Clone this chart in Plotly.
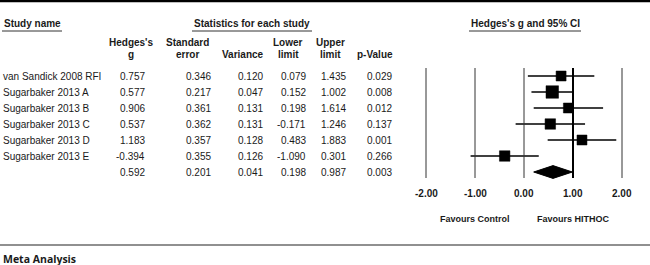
import plotly.graph_objects as go

# ---------------- data ----------------
studies = ["van Sandick 2008 RFI", "Sugarbaker 2013 A", "Sugarbaker 2013 B",
           "Sugarbaker 2013 C", "Sugarbaker 2013 D", "Sugarbaker 2013 E"]
hedges_g = [0.757, 0.577, 0.906, 0.537, 1.183, -0.394]
std_err = [0.346, 0.217, 0.361, 0.362, 0.357, 0.355]
variance = [0.120, 0.047, 0.131, 0.131, 0.128, 0.126]
lower = [0.079, 0.152, 0.198, -0.171, 0.483, -1.090]
upper = [1.435, 1.002, 1.614, 1.246, 1.883, 0.301]
p_value = [0.029, 0.008, 0.012, 0.137, 0.001, 0.266]
marker_size = [10, 12.5, 10, 10.5, 10, 10.5]

summary = {"g": 0.592, "se": 0.201, "var": 0.041, "lo": 0.198, "hi": 0.987, "p": 0.003}

tick_vals = [-2, -1, 0, 1, 2]
tick_text = ["-2.00", "-1.00", "0.00", "1.00", "2.00"]

# ---------------- layout helpers ----------------
W, H = 650, 265
ROW0, ROWH = 76, 16          # pixel y of first row, row spacing
X0, XU = 524, 49             # pixel x of value 0, pixels per unit


def px(x):
    return x / W


def py(y):
    return 1 - y / H


def row_of(y):
    return (y - ROW0) / ROWH


FONT = "Liberation Sans, Arial, sans-serif"
TXT = "#1a1a1a"

fig = go.Figure()

# vertical reference lines
for v in tick_vals:
    fig.add_shape(type="line", xref="x", yref="y", x0=v, x1=v,
                  y0=row_of(68), y1=row_of(178),
                  line=dict(color="black" if v == 1 else "#333333",
                            width=2 if v == 1 else 1))

# study CIs with square markers
fig.add_trace(go.Scatter(
    x=hedges_g, y=list(range(len(studies))), mode="markers",
    marker=dict(symbol="square", size=marker_size, color="black", opacity=1,
                line=dict(width=0.5, color="black")),
    error_x=dict(type="data", symmetric=False,
                 array=[u - g for u, g in zip(upper, hedges_g)],
                 arrayminus=[g - l for g, l in zip(hedges_g, lower)],
                 color="black", thickness=1.6, width=0),
    showlegend=False, hoverinfo="skip"))

# summary diamond
srow = len(studies)
dh = 0.4
fig.add_trace(go.Scatter(
    x=[summary["lo"], summary["g"], summary["hi"], summary["g"], summary["lo"]],
    y=[srow, srow - dh, srow, srow + dh, srow],
    mode="lines", fill="toself", fillcolor="black",
    line=dict(color="black", width=1), showlegend=False, hoverinfo="skip"))

ann = []


def add(text, x, y, xanchor="right", size=10, bold=False, yref="y", family=FONT, color=TXT):
    ann.append(dict(text=f"<b>{text}</b>" if bold else text, x=px(x), y=y,
                    xref="paper", yref=yref, xanchor=xanchor, yanchor="middle",
                    showarrow=False, font=dict(family=family, size=size, color=color)))


# table rows
for i, name in enumerate(studies):
    add(name, 1, i, xanchor="left")
    add(f"{hedges_g[i]:.3f}", 147, i)
    add(f"{std_err[i]:.3f}", 213, i)
    add(f"{variance[i]:.3f}", 265, i)
    add(f"{lower[i]:.3f}", 308, i)
    add(f"{upper[i]:.3f}", 348, i)
    add(f"{p_value[i]:.3f}", 394, i)
add(f"{summary['g']:.3f}", 147, srow)
add(f"{summary['se']:.3f}", 213, srow)
add(f"{summary['var']:.3f}", 265, srow)
add(f"{summary['lo']:.3f}", 308, srow)
add(f"{summary['hi']:.3f}", 348, srow)
add(f"{summary['p']:.3f}", 394, srow)

# headers
add("Study name", 2, py(24), xanchor="left", bold=True, yref="paper")
add("Statistics for each study", 252, py(24), xanchor="center", bold=True, yref="paper")
add("Hedges's g and 95% CI", 525, py(24), xanchor="center", bold=True, yref="paper")
add("Hedges's", 131, py(43), xanchor="center", bold=True, yref="paper")
add("g", 131, py(55), xanchor="center", bold=True, yref="paper")
add("Standard", 187, py(43), xanchor="center", bold=True, yref="paper")
add("error", 187, py(55), xanchor="center", bold=True, yref="paper")
add("Variance", 243, py(55), xanchor="center", bold=True, yref="paper")
add("Lower", 288, py(43), xanchor="center", bold=True, yref="paper")
add("limit", 288, py(55), xanchor="center", bold=True, yref="paper")
add("Upper", 330, py(43), xanchor="center", bold=True, yref="paper")
add("limit", 330, py(55), xanchor="center", bold=True, yref="paper")
add("p-Value", 375, py(55), xanchor="center", bold=True, yref="paper")

# axis tick labels
for v, t in zip(tick_vals, tick_text):
    ann.append(dict(text=f"<b>{t}</b>", x=v, y=py(193), xref="x", yref="paper",
                    xanchor="center", yanchor="middle", showarrow=False,
                    font=dict(family=FONT, size=10, color=TXT)))
ann.append(dict(text="<b>Favours Control</b>", x=-1, y=py(219), xref="x", yref="paper",
                xanchor="center", yanchor="middle", showarrow=False,
                font=dict(family=FONT, size=9, color=TXT)))
ann.append(dict(text="<b>Favours HITHOC</b>", x=1, y=py(219), xref="x", yref="paper",
                xanchor="center", yanchor="middle", showarrow=False,
                font=dict(family=FONT, size=9, color=TXT)))

add("Meta Analysis", 1, py(259), xanchor="left", bold=True, yref="paper",
    family="Open Sans, sans-serif", size=10.5)

# decorative lines: top border, header underlines, bottom rule
shapes = [
    dict(type="line", xref="paper", yref="paper", x0=0, x1=1, y0=py(1), y1=py(1),
         line=dict(color="black", width=2.5)),
    dict(type="line", xref="paper", yref="paper", x0=px(2), x1=px(62), y0=py(31), y1=py(31),
         line=dict(color="#333", width=1)),
    dict(type="line", xref="paper", yref="paper", x0=px(192), x1=px(312), y0=py(31), y1=py(31),
         line=dict(color="#333", width=1)),
    dict(type="line", xref="paper", yref="paper", x0=px(469), x1=px(581), y0=py(31), y1=py(31),
         line=dict(color="#333", width=1)),
    dict(type="line", xref="paper", yref="paper", x0=0, x1=1, y0=py(245), y1=py(245),
         line=dict(color="#222", width=1.2)),
]
for s in shapes:
    fig.add_shape(**s)

fig.update_layout(
    width=W, height=H, margin=dict(l=0, r=0, t=0, b=0),
    paper_bgcolor="white", plot_bgcolor="white",
    xaxis=dict(range=[-X0 / XU, (W - X0) / XU], domain=[0, 1], visible=False, fixedrange=True),
    yaxis=dict(range=[row_of(H), row_of(0)], domain=[0, 1], visible=False, fixedrange=True),
    annotations=ann,
)

fig.write_html("out.html", config={"displayModeBar": False},
               post_script="document.body.style.margin='0';document.body.style.overflow='hidden';")
